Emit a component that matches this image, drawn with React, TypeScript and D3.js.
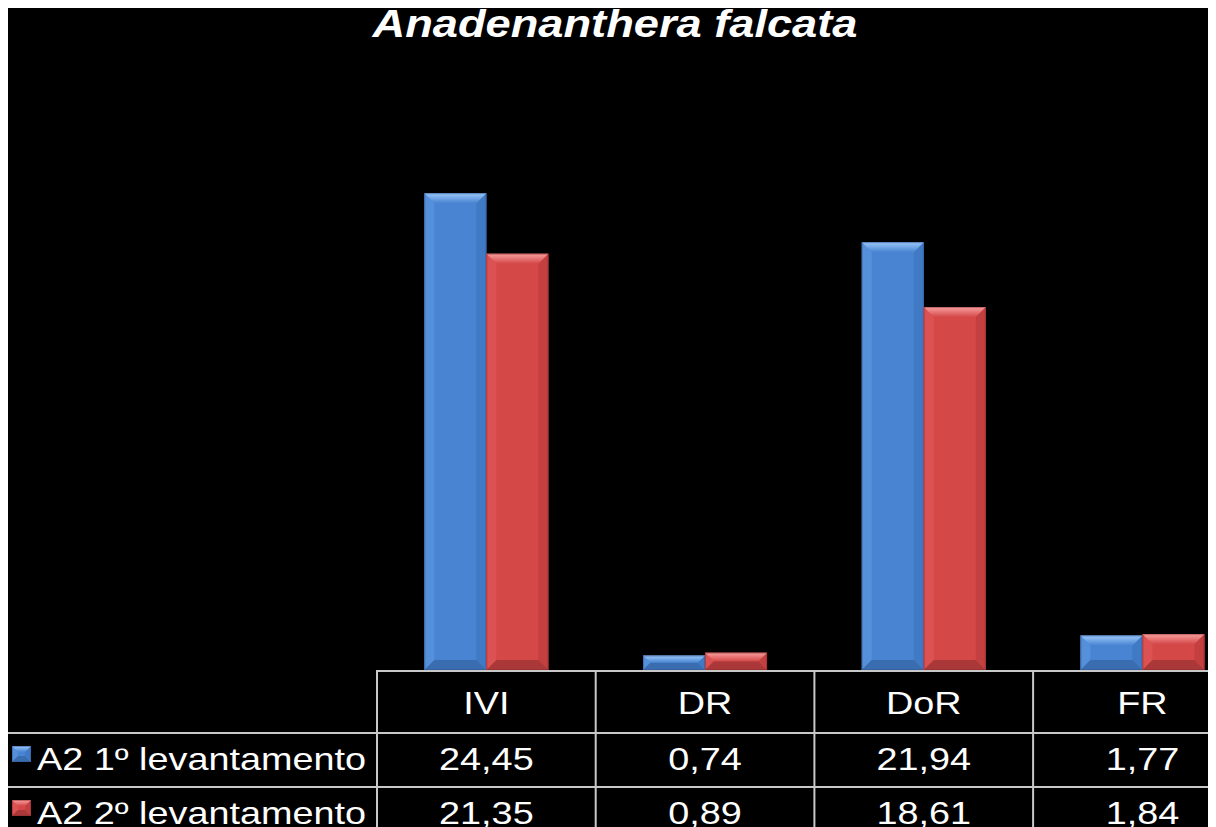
import React, { useEffect } from "react";
import * as d3 from "d3";

const title = "Anadenanthera falcata";
const categories = ["IVI", "DR", "DoR", "FR"];
const seriesNames = ["A2 1º levantamento", "A2 2º levantamento"];
const series1 = [24.45, 0.74, 21.94, 1.77];
const series2 = [21.35, 0.89, 18.61, 1.84];
const yMax = 30;

const W = 1208;
const H = 819;

const palettes = [
  { id: "b", top: "#9cc8fa", left: "#5590da", base: "#4884d2", right: "#4079c4", bottom: "#3a6cb0", edge: "#2f5690" },
  { id: "r", top: "#f9a0a0", left: "#dc5252", base: "#d44848", right: "#c44040", bottom: "#ab3838", edge: "#8a2c2c" },
];

const locale = d3.formatLocale({ decimal: ",", thousands: ".", grouping: [3], currency: ["", ""] });
const fmt = locale.format(".2f");

function Bevel({ x, y, w, h, p, bv }: { x: number; y: number; w: number; h: number; p: any; bv: number }) {
  const b = Math.max(1, Math.min(bv, h / 2, w / 2));
  const x0 = x, x1 = x + w, y0 = y, y1 = y + h;
  const pt = (a: number[][]) => a.map((q) => q.join(",")).join(" ");
  return (
    <g>
      <rect x={x0} y={y0} width={w} height={h} fill={p.base} />
      <polygon points={pt([[x0, y0], [x0 + b, y0 + b], [x0 + b, y1 - b], [x0, y1]])} fill={p.left} />
      <polygon points={pt([[x1, y0], [x1 - b, y0 + b], [x1 - b, y1 - b], [x1, y1]])} fill={p.right} />
      <polygon points={pt([[x0, y1], [x0 + b, y1 - b], [x1 - b, y1 - b], [x1, y1]])} fill={p.bottom} />
      <polygon points={pt([[x0, y0], [x1, y0], [x1 - b, y0 + b], [x0 + b, y0 + b]])} fill={`url(#top-${p.id})`} />
      <rect x={x0 + 0.5} y={y0 + 0.5} width={w - 1} height={h - 1} fill="none" stroke={p.edge} strokeWidth={1} strokeOpacity={0.5} />
    </g>
  );
}

export default function App() {
  useEffect(() => {
    document.documentElement.style.overflow = "hidden";
    document.body.style.overflow = "hidden";
  }, []);

  const tableLeft = 377;
  const colW = 218.7;
  const x = d3.scaleBand<string>().domain(categories).range([tableLeft, tableLeft + colW * categories.length]).paddingInner(0).paddingOuter(0);
  const groupW = x.bandwidth() * 0.567;
  const x1 = d3.scaleBand<string>().domain(seriesNames).range([0, groupW]).padding(0);
  const baseY = 670;
  const y = d3.scaleLinear().domain([0, yMax]).range([baseY, 85]);

  const headerTop = 671;
  const row1 = 733;
  const row2 = 787;
  const lineColor = "#c8c8c8";
  const sx = 1.24;
  const fs = 30.5;
  const data = [series1, series2];

  return (
    <svg width={W} height={H} style={{ display: "block" }}>
      <defs>
        {palettes.map((p) => (
          <linearGradient key={p.id} id={`top-${p.id}`} x1="0" y1="0" x2="0" y2="1">
            <stop offset="0" stopColor={p.top} />
            <stop offset="1" stopColor={p.base} />
          </linearGradient>
        ))}
      </defs>
      <g transform="translate(-8,-8)">
        <rect x={8} y={8} width={W} height={H} fill="#000" />
        <text
          transform={`translate(615,37) scale(1.19,1)`}
          textAnchor="middle"
          fill="#fff"
          fontFamily="'Liberation Sans', Arial, sans-serif"
          fontWeight="bold"
          fontStyle="italic"
          fontSize={38}
        >
          {title}
        </text>

        {categories.map((c, ci) =>
          seriesNames.map((s, si) => {
            const v = data[si][ci];
            const bx = (x(c) as number) + (x.bandwidth() - groupW) / 2 + (x1(s) as number);
            const by = y(v);
            return <Bevel key={c + s} x={bx} y={by} w={x1.bandwidth()} h={baseY - by} p={palettes[si]} bv={10} />;
          })
        )}

        <line x1={tableLeft} x2={1216} y1={headerTop} y2={headerTop} stroke={lineColor} strokeWidth={2} />
        <line x1={8} x2={1216} y1={row1} y2={row1} stroke={lineColor} strokeWidth={2} />
        <line x1={8} x2={1216} y1={row2} y2={row2} stroke={lineColor} strokeWidth={2} />
        {categories.map((c) => (
          <line key={c} x1={x(c) as number} x2={x(c) as number} y1={headerTop - 1} y2={830} stroke={lineColor} strokeWidth={2} />
        ))}

        {categories.map((c) => (
          <text
            key={c}
            transform={`translate(${(x(c) as number) + x.bandwidth() / 2},714) scale(${sx},1)`}
            textAnchor="middle"
            fill="#fff"
            fontFamily="'Liberation Sans', Arial, sans-serif"
            fontSize={fs}
          >
            {c}
          </text>
        ))}

        {seriesNames.map((s, si) => {
          const top = si === 0 ? row1 : row2;
          const base = top + 37;
          return (
            <g key={s}>
              <Bevel x={12} y={top + 13} w={19} h={16} p={palettes[si]} bv={6} />
              <text
                transform={`translate(37,${base}) scale(${sx},1)`}
                fill="#fff"
                fontFamily="'Liberation Sans', Arial, sans-serif"
                fontSize={fs}
              >
                {s}
              </text>
              {categories.map((c, ci) => (
                <text
                  key={c}
                  transform={`translate(${(x(c) as number) + x.bandwidth() / 2},${base}) scale(${sx},1)`}
                  textAnchor="middle"
                  fill="#fff"
                  fontFamily="'Liberation Sans', Arial, sans-serif"
                  fontSize={fs}
                >
                  {fmt(data[si][ci])}
                </text>
              ))}
            </g>
          );
        })}
      </g>
    </svg>
  );
}
